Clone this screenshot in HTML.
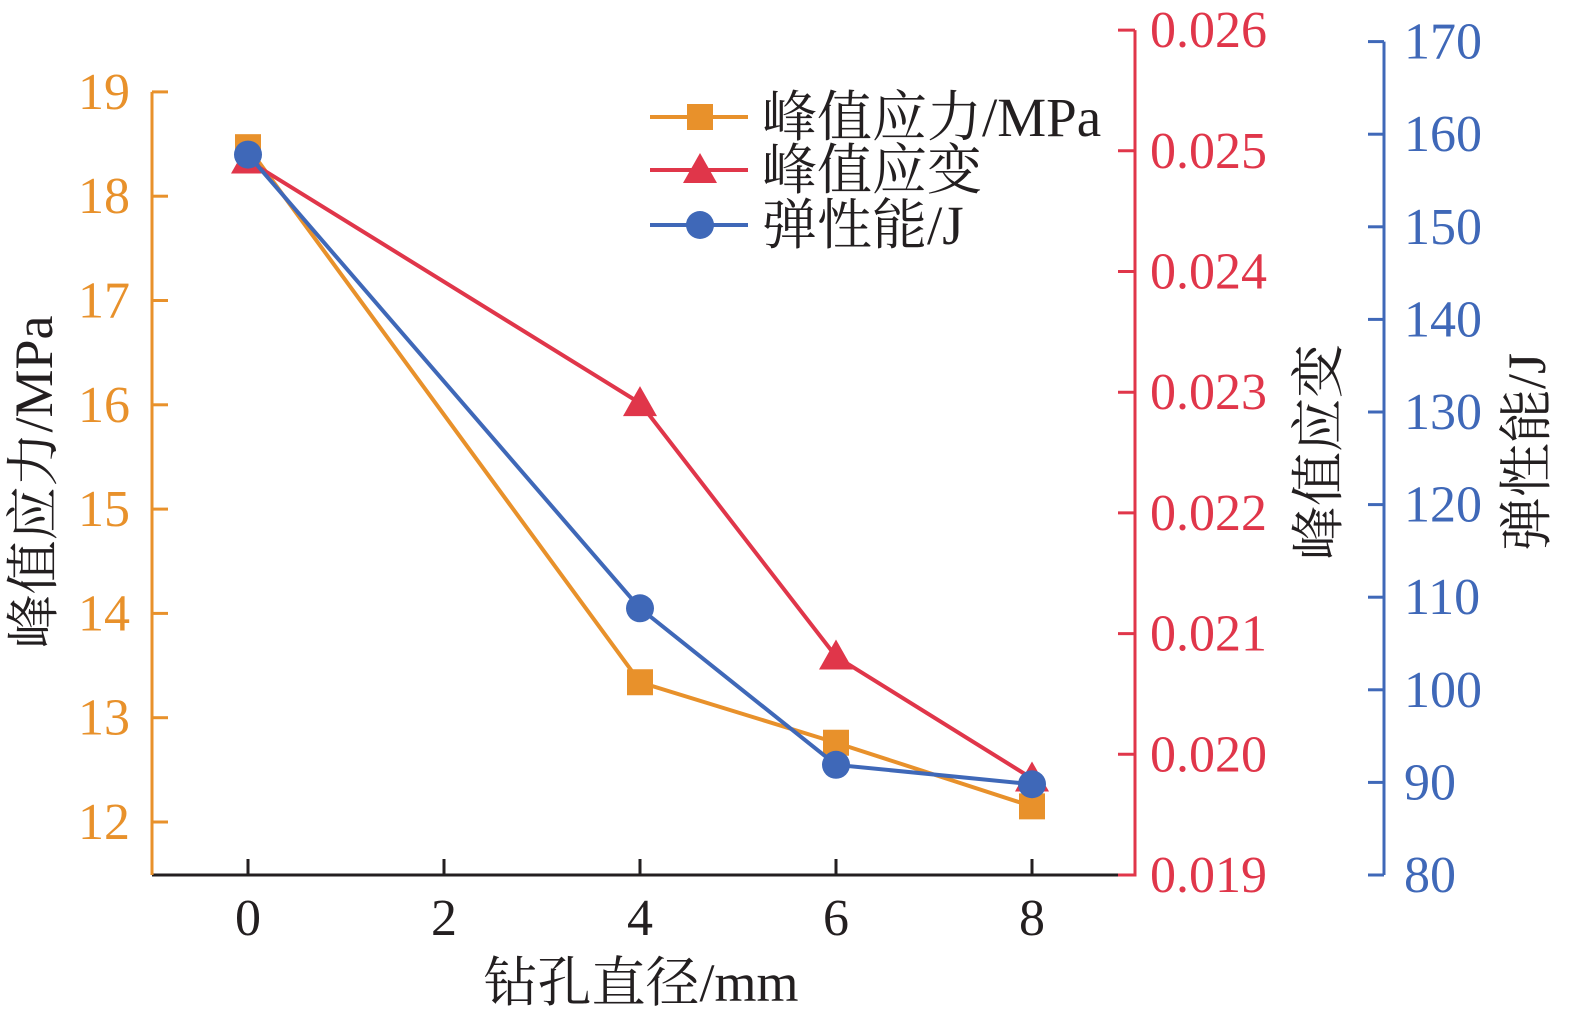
<!DOCTYPE html>
<html><head><meta charset="utf-8">
<style>html,body{margin:0;padding:0;background:#fff;}svg{display:block;}
text{font-family:"Liberation Serif","Noto Serif CJK SC",serif;}</style></head>
<body>
<svg id="chart" width="1575" height="1021" viewBox="0 0 1575 1021" xmlns="http://www.w3.org/2000/svg"></svg>
<script>
const categories=[0,4,6,8];
const stressValues=[18.47,13.34,12.76,12.15];
const strainValues=[0.02492,0.02291,0.02081,0.01980];
const energyValues=[157.8,108.8,91.9,89.8];
const xTicks=[0,2,4,6,8];
const leftTicks=[12,13,14,15,16,17,18,19];
const redTicks=["0.019","0.020","0.021","0.022","0.023","0.024","0.025","0.026"];
const blueTicks=[80,90,100,110,120,130,140,150,160,170];

const OR="#E8912B",RD="#E0364A",BL="#3F68B8";
const FS=52;
const svg=document.getElementById('chart');
const NS="http://www.w3.org/2000/svg";
function mk(tag,attrs,parent){const e=document.createElementNS(NS,tag);for(const k in attrs)e.setAttribute(k,attrs[k]);(parent||svg).appendChild(e);return e;}
const X=v=>248+v*98;
const YL=v=>822-(v-12)*104.3;
const YR=v=>875-(v-0.019)*120700;
const YB=v=>875-(v-80)*9.26;
const AX=875;

let g=mk('g',{});
mk('line',{x1:152,y1:AX,x2:1120,y2:AX,stroke:"#231f20","stroke-width":3},g);
xTicks.forEach(t=>{mk('line',{x1:X(t),y1:AX,x2:X(t),y2:AX-16,stroke:"#231f20","stroke-width":3},g);
 const tx=mk('text',{x:X(t),y:AX+60,"text-anchor":"middle","font-size":FS,fill:"#231f20"},g);tx.textContent=t;
 });
let tt=mk('text',{x:641,y:1001,"text-anchor":"middle","font-size":54,fill:"#231f20"});tt.textContent="钻孔直径/mm";


g=mk('g',{});
mk('line',{x1:152,y1:YL(19),x2:152,y2:AX,stroke:OR,"stroke-width":3},g);
leftTicks.forEach(t=>{mk('line',{x1:152,y1:YL(t),x2:168,y2:YL(t),stroke:OR,"stroke-width":3},g);
 const tx=mk('text',{x:130,y:YL(t)+17,"text-anchor":"end","font-size":FS,fill:OR},g);tx.textContent=t;
 });
tt=mk('text',{x:0,y:0,"text-anchor":"middle","font-size":54,fill:"#231f20",transform:"translate(52,482) rotate(-90)"});tt.textContent="峰值应力/MPa";


g=mk('g',{});
mk('line',{x1:1120,y1:AX,x2:1135,y2:AX,stroke:RD,"stroke-width":3},g);
mk('line',{x1:1135,y1:YR(0.026),x2:1135,y2:AX+1.5,stroke:RD,"stroke-width":3},g);
redTicks.forEach(t=>{const y=YR(parseFloat(t));mk('line',{x1:1118,y1:y,x2:1135,y2:y,stroke:RD,"stroke-width":3},g);
 const tx=mk('text',{x:1150,y:y+17,"font-size":FS,fill:RD},g);tx.textContent=t;
 });
tt=mk('text',{x:0,y:0,"text-anchor":"middle","font-size":54,fill:"#231f20",transform:"translate(1337,452) rotate(-90)"});tt.textContent="峰值应变";


g=mk('g',{});
mk('line',{x1:1384,y1:YB(170),x2:1384,y2:YB(80),stroke:BL,"stroke-width":3},g);
blueTicks.forEach(t=>{mk('line',{x1:1368,y1:YB(t),x2:1384,y2:YB(t),stroke:BL,"stroke-width":3},g);
 const tx=mk('text',{x:1404,y:YB(t)+17,"font-size":FS,fill:BL},g);tx.textContent=t;
 });
tt=mk('text',{x:0,y:0,"text-anchor":"middle","font-size":54,fill:"#231f20",transform:"translate(1545,452) rotate(-90)"});tt.textContent="弹性能/J";


function marker(type,cx,cy,col,p){
 if(type==='sq') return mk('rect',{x:cx-13,y:cy-13,width:26,height:26,fill:col},p);
 if(type==='tri') return mk('polygon',{points:`${cx},${cy-17} ${cx-17},${cy+13} ${cx+17},${cy+13}`,fill:col},p);
 return mk('circle',{cx:cx,cy:cy,r:14,fill:col},p);
}
function series(name,vals,Y,col,type){
 const sg=mk('g',{});
 const pts=categories.map((c,i)=>X(c)+","+Y(vals[i])).join(" ");
 mk('polyline',{points:pts,fill:"none",stroke:col,"stroke-width":4},sg);
 categories.forEach((c,i)=>{const m=marker(type,X(c),Y(vals[i]),col,sg);
  });
}
series('stress-series',stressValues,YL,OR,'sq');
series('strain-series',strainValues,YR,RD,'tri');
series('energy-series',energyValues,YB,BL,'ci');

const lg=mk('g',{});
[["峰值应力/MPa",OR,'sq',117],["峰值应变",RD,'tri',170],["弹性能/J",BL,'ci',225]].forEach(([lab,col,type,y])=>{
 const eg=mk('g',{},lg);
 mk('line',{x1:650,y1:y,x2:748,y2:y,stroke:col,"stroke-width":4},eg);
 marker(type,700,y,col,eg);
 const tx=mk('text',{x:762,y:y+19,"font-size":55,fill:"#231f20"},eg);tx.textContent=lab;
});
</script>
</body></html>
